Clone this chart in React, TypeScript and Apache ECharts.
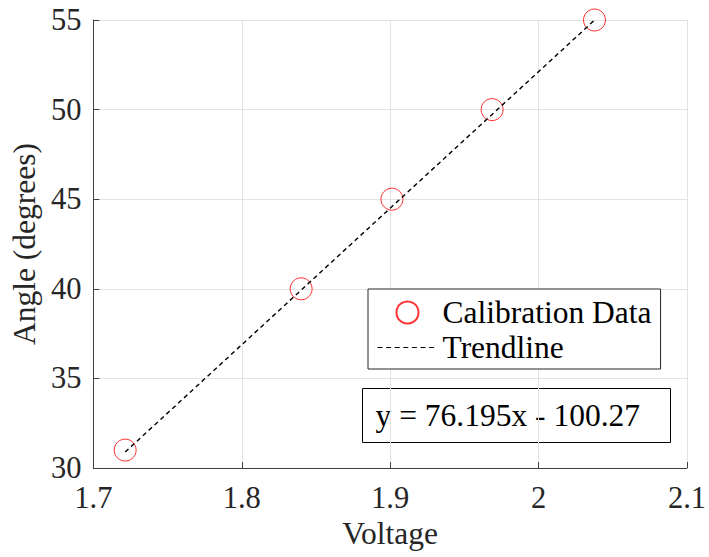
import React, { useEffect, useRef } from "react";
import * as echarts from "echarts";

const voltage = [1.7214, 1.84, 1.9012, 1.9687, 2.0377];
const angle = [31, 40, 45, 50, 55];
const trendX = [1.7214, 2.0377];
const trendY = [30.89, 54.99];
const xTicks = { min: 1.7, max: 2.1, interval: 0.1 };
const yTicks = { min: 30, max: 55, interval: 5 };
const seriesNames = ["Calibration Data", "Trendline"];
const equationText = "y = 76.195x - 100.27";
const xTitle = "Voltage";
const yTitle = "Angle (degrees)";

const FONT = "'Liberation Serif', 'Times New Roman', serif";
const TXT = "#262626";

export default function App() {
  const ref = useRef<HTMLDivElement>(null);
  useEffect(() => {
    if (!ref.current) return;
    const chart = echarts.init(ref.current, undefined, { renderer: "svg" });
    const scatterData = voltage.map((v, i) => [v, angle[i]]);
    const trendData = trendX.map((v, i) => [v, trendY[i]]);
    chart.setOption({
      animation: false,
      backgroundColor: "#fff",
      grid: { left: 92, top: 20, right: 20, bottom: 89, containLabel: false },
      xAxis: {
        type: "value",
        min: xTicks.min,
        max: xTicks.max,
        interval: xTicks.interval,
        name: xTitle,
        nameLocation: "middle",
        nameGap: 36,
        nameTextStyle: { fontFamily: FONT, fontSize: 31.5, color: TXT },
        axisLine: { show: true, lineStyle: { color: "#404040", width: 1 } },
        axisTick: { show: true, inside: true, length: 6, lineStyle: { color: "#404040" } },
        axisLabel: { margin: 14, fontFamily: FONT, fontSize: 30.5, color: TXT },
        splitLine: { show: true, lineStyle: { color: "#e3e3e3", width: 1 } },
      },
      yAxis: {
        type: "value",
        min: yTicks.min,
        max: yTicks.max,
        interval: yTicks.interval,
        name: yTitle,
        nameLocation: "middle",
        nameGap: 42,
        nameTextStyle: { fontFamily: FONT, fontSize: 31.5, color: TXT },
        axisLine: { show: true, lineStyle: { color: "#404040", width: 1 } },
        axisTick: { show: true, inside: true, length: 6, lineStyle: { color: "#404040" } },
        axisLabel: { margin: 12, fontFamily: FONT, fontSize: 30.5, color: TXT },
        splitLine: { show: true, lineStyle: { color: "#e3e3e3", width: 1 } },
      },
      legend: {
        orient: "vertical",
        left: 368,
        top: 289,
        padding: [7, 9, 5, 9],
        itemGap: 2,
        itemWidth: 60,
        itemHeight: 22,
        borderColor: "#262626",
        borderWidth: 1,
        backgroundColor: "#fff",
        textStyle: { fontFamily: FONT, fontSize: 31.5, color: "#000", lineHeight: 33 },
        data: [
          { name: seriesNames[0], icon: "circle" },
          {
            name: seriesNames[1],
            itemStyle: { opacity: 0 },
            lineStyle: { width: 1, type: [5, 3.6], color: "#000" },
          },
        ],
      },
      series: [
        {
          name: seriesNames[0],
          type: "scatter",
          data: scatterData,
          symbol: "circle",
          symbolSize: 22,
          itemStyle: { color: "rgba(255,255,255,0)", borderColor: "#ff0000", borderWidth: 1 },
          z: 2,
        },
        {
          name: seriesNames[1],
          type: "line",
          data: trendData,
          symbol: "none",
          itemStyle: { color: "#000" },
          lineStyle: { color: "#000", width: 1.4, type: [4.5, 3.5] },
          z: 3,
        },
      ],
      graphic: [
        {
          type: "group",
          left: 362,
          top: 388,
          children: [
            {
              type: "rect",
              shape: { x: 0, y: 0, width: 308, height: 54 },
              style: { fill: "#fff", stroke: "#000", lineWidth: 1 },
            },
            {
              type: "text",
              x: 13,
              y: 27,
              style: {
                text: equationText,
                fontFamily: FONT,
                fontSize: 31.5,
                fill: "#000",
                verticalAlign: "middle",
                align: "left",
              },
            },
          ],
        },
      ],
    });
    return () => chart.dispose();
  }, []);
  return (
    <div
      ref={ref}
      style={{ position: "fixed", left: 0, top: 0, width: 709, height: 557, background: "#fff" }}
    />
  );
}
